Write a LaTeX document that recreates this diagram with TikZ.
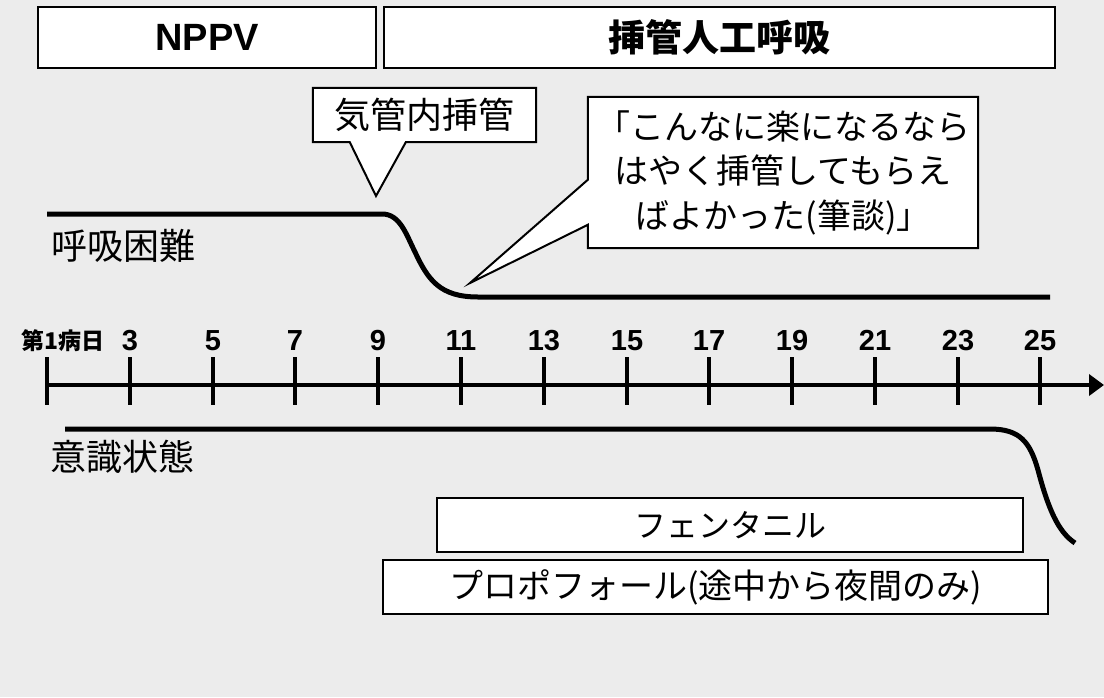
\documentclass[tikz,border=0pt]{standalone}
\usepackage{fontspec}
\setmainfont{Liberation Sans}
\newfontfamily\jp{Noto Sans CJK JP}
\usetikzlibrary{arrows.meta,calc,backgrounds}
\definecolor{bg}{RGB}{236,236,236}
\begin{document}
\begin{tikzpicture}[x=1pt,y=-1pt,
  box/.style={draw=black, line width=2pt, fill=white, inner sep=0pt},
  plain/.style={inner sep=0pt},
  outline/.style={draw=black, line width=2pt, fill=white, line join=miter},
  curve/.style={line width=5pt},
  ticklbl/.style={inner sep=0pt, anchor=base, font=\fontsize{29}{31}\selectfont\bfseries},
  jplbl/.style={inner sep=0pt, font=\jp\fontsize{36}{40}\selectfont},
]
\useasboundingbox (0,0) rectangle (1104,697);
\begin{scope}[on background layer]
  \fill[bg] (0,0) rectangle (1104,697);
\end{scope}

% top phase boxes
\node[box, minimum width=338pt, minimum height=61pt,
      font=\fontsize{38}{40}\selectfont\bfseries] (nppv) at (207,37.5) {NPPV};
\node[box, minimum width=671pt, minimum height=61pt,
      font=\jp\fontsize{37}{40}\selectfont\bfseries] (imv) at (719.5,37.5) {挿管人工呼吸};

% callout: intubation
\node[plain, minimum width=223pt, minimum height=54pt,
      font=\jp\fontsize{36}{40}\selectfont] (kn) at (424.5,115) {気管内挿管};
\coordinate (kntip) at (376,196);
\coordinate (knb1) at ($(kn.south west)+(37,0)$);
\coordinate (knb2) at ($(kn.south west)+(93,0)$);

% callout: quote
\node[plain, minimum width=390pt, minimum height=151pt, align=center,
      font=\jp\fontsize{34}{44.5}\selectfont] (quote) at (783,172.5)
      {「こんなに楽になるなら\\はやく挿管してもらえ\\ばよかった(筆談)」};
\coordinate (qtip) at (470,283);
\coordinate (qb1) at ($(quote.north west)+(0,83)$);
\coordinate (qb2) at ($(quote.north west)+(0,128)$);

\begin{scope}[on background layer]
  \draw[outline] (kn.north west) -- (kn.north east) -- (kn.south east)
     -- (knb2) -- (kntip) -- (knb1) -- (kn.south west) -- cycle;
  \draw[outline] (quote.north west) -- (quote.north east) -- (quote.south east)
     -- (quote.south west) -- (qb2) -- (qtip) -- (qb1) -- cycle;
\end{scope}

% dyspnea curve
\node[jplbl] (dysp) at (123.5,246) {呼吸困難};
\coordinate (d0) at (47,214);
\coordinate (d1) at (1050,297);
\draw[curve] (d0) -- (382,214) .. controls (400,214) and (406,234) .. (415,252)
   .. controls (428,280) and (440,297) .. (478,297) -- (d1);

% time axis
\coordinate (ax0) at (47,385);
\coordinate (ax1) at (1104,385);
\draw[line width=4pt, -{Triangle[length=15pt,width=21pt]}] (ax0) -- (ax1);
\foreach \x/\n/\l in {47/t1/, 130/t3/3, 213/t5/5, 295/t7/7, 378/t9/9, 461/t11/11,
    544/t13/13, 627/t15/15, 709/t17/17, 792/t19/19, 875/t21/21, 958/t23/23, 1040/t25/25}{
  \coordinate (\n a) at (\x,357);
  \coordinate (\n b) at (\x,405);
  \draw[line width=4pt] (\n a) -- (\n b);
  \node[ticklbl] (\n lbl) at (\x,350) {\l};
}
\node[inner sep=0pt, anchor=base, font=\jp\fontsize{23}{26}\selectfont\bfseries] (day1) at (63,349) {第1病日};

% consciousness curve
\node[jplbl] (cons) at (122.5,457) {意識状態};
\coordinate (c0) at (65,429);
\coordinate (c1) at (1075,543);
\draw[curve] (c0) -- (990,429) .. controls (1020,429) and (1030,442) .. (1038,470)
   .. controls (1048,508) and (1058,532) .. (c1);

% drug boxes
\node[box, minimum width=586pt, minimum height=54pt,
      font=\jp\fontsize{32}{36}\selectfont] (fent) at (730,525) {フェンタニル};
\node[box, minimum width=665pt, minimum height=54pt,
      font=\jp\fontsize{34}{38}\selectfont] (prop) at (715.5,587) {プロポフォール(途中から夜間のみ)};
\end{tikzpicture}
\end{document}
